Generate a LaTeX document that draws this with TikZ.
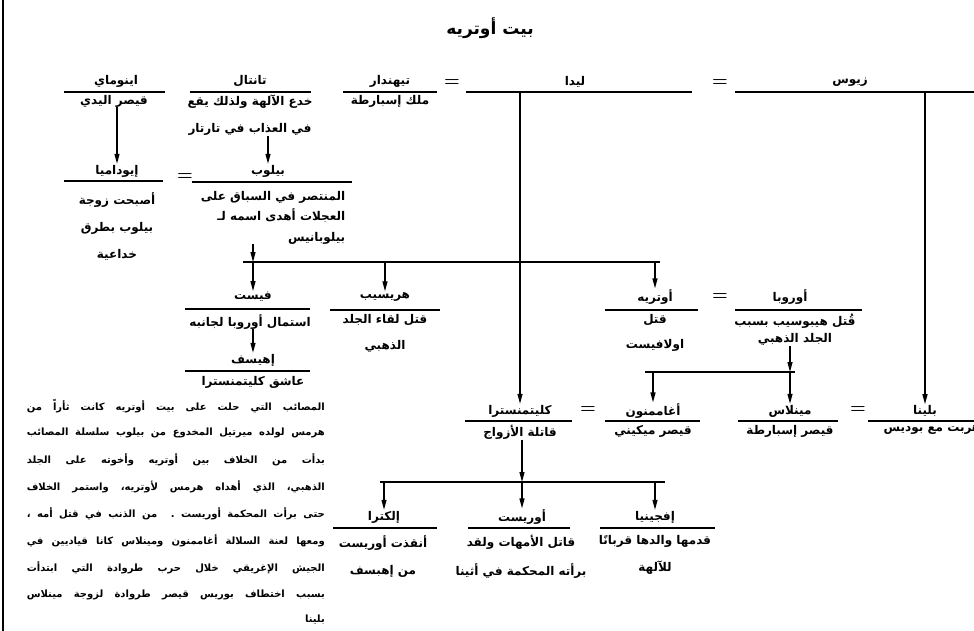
\documentclass[tikz,border=0pt]{standalone}
\usepackage{fontspec}
\newfontfamily\arabicfont[Script=Arabic]{DejaVu Sans}
\TeXXeTstate=1
\newcommand{\artxt}[1]{\beginR #1\endR}
\usetikzlibrary{arrows.meta}

\begin{document}
\begin{tikzpicture}[
x=1pt, y=-1pt,
    person/.style={font=\arabicfont\bfseries\fontsize{12}{14}\selectfont, inner sep=1pt},
    note/.style={font=\arabicfont\bfseries\fontsize{12}{14}\selectfont, inner sep=0pt, anchor=north, align=center},
    bar/.style={fill=black, inner sep=0pt, minimum height=1.1pt},
    eq/.style={font=\bfseries\fontsize{18}{18}\selectfont, inner sep=0pt},
    line/.style={draw, line width=1.3pt},
    arrow/.style={line, -{Triangle[length=10pt, width=5pt]}},
    para/.style={font=\arabicfont\bfseries\fontsize{10}{12}\selectfont, inner sep=0pt, anchor=east}
]
    \useasboundingbox (0,0) rectangle (974,631);
    \draw[line] (3,0) -- (3,631);

    % --- Title ---
    \node[font=\arabicfont\bfseries\fontsize{17}{20}\selectfont] (title) at (490,28) {\artxt{بيت أوتريه}};

    % --- Top row ---
    \node[person] (oeno) at (116,81) {\artxt{اينوماي}};
    \node[bar, minimum width=101pt] (oenoBar) at (114.5,92) {};
    \node[note] (oenoInfo) at (114,95) {\artxt{قيصر اليدي}};

    \node[person] (tant) at (250,81) {\artxt{تانتال}};
    \node[bar, minimum width=121pt] (tantBar) at (250.5,92) {};
    \node[note] (tantInfo) at (250,95) {\artxt{خدع الآلهة ولذلك يقع}\\[13pt]\artxt{في العذاب في تارتار}};

    \node[person] (tynd) at (390,81) {\artxt{تيهندار}};
    \node[bar, minimum width=94pt] (tyndBar) at (390,92) {};
    \node[note] (tyndInfo) at (390,95) {\artxt{ملك إسبارطة}};

    \node[eq] (eqA) at (452,83) {=};
    \node[person] (leda) at (575,82) {\artxt{ليدا}};
    \node[bar, minimum width=226pt] (ledaBar) at (579,92) {};

    \node[eq] (eqB) at (720,83) {=};
    \node[person] (zeus) at (850,82) {\artxt{زيوس}};
    \node[bar, minimum width=245pt] (zeusBar) at (857.5,92) {};

    % --- Pelops and his wife ---
    \node[person] (hippo) at (117,171) {\artxt{إيوداميا}};
    \node[bar, minimum width=99pt] (hippoBar) at (113.5,181) {};
    \node[note] (hippoInfo) at (117,192) {\artxt{أصبحت زوجة}\\[13pt]\artxt{بيلوب بطرق}\\[13pt]\artxt{خداعية}};

    \node[eq] (eqC) at (185,177) {=};
    \node[person] (pelops) at (268,171) {\artxt{بيلوب}};
    \node[bar, minimum width=160pt] (pelopsBar) at (272,182) {};
    \node[note, align=right] (pelopsInfo) at (273,191) {\artxt{المنتصر في السباق على}\\[4pt]\artxt{العجلات أهدى اسمه لـ}\\[7pt]\artxt{بيلوبانيس}};

    \draw[arrow] (oenoInfo.south -| hippo) -- (hippo.north);
    \draw[arrow] (tantInfo.south -| pelops) -- (pelops.north);

    % --- Children of Pelops ---
    \node[person] (thy) at (253,297) {\artxt{فيست}};
    \node[bar, minimum width=125pt] (thyBar) at (247.5,309) {};
    \node[note] (thyInfo) at (250,314) {\artxt{استمال أوروبا لجانبه}};

    \node[person] (chrys) at (385,297) {\artxt{هريسيب}};
    \node[bar, minimum width=110pt] (chrysBar) at (385,310) {};
    \node[note] (chrysInfo) at (385,314) {\artxt{قتل لقاء الجلد}\\[12pt]\artxt{الذهبي}};

    \node[person] (atr) at (655,297) {\artxt{أوتريه}};
    \node[bar, minimum width=93pt] (atrBar) at (651.5,310) {};
    \node[note] (atrInfo) at (655,314) {\artxt{قتل}\\[11pt]\artxt{اولافيست}};

    \node[eq] (eqD) at (720,297) {=};
    \node[person] (aero) at (790,297) {\artxt{أوروبا}};
    \node[bar, minimum width=127pt] (aeroBar) at (798.5,310) {};
    \node[note] (aeroInfo) at (795,314) {\artxt{قُتل هيبوسيب بسبب}\\[3pt]\artxt{الجلد الذهبي}};

    \coordinate (sibL) at (243,262);
    \coordinate (sibR) at (660,262);
    \draw[line] (sibL) -- (sibR);
    \draw[arrow] (pelopsInfo.south -| thy) -- (thy |- sibL);
    \draw[arrow] (thy |- sibL) -- (thy.north);
    \draw[arrow] (chrys |- sibL) -- (chrys.north);
    \draw[arrow] (atr |- sibL) -- (atr.north);

    % --- Aegisthus ---
    \node[person] (aeg) at (253,360) {\artxt{إهيسف}};
    \node[bar, minimum width=125pt] (aegBar) at (247.5,371) {};
    \node[note] (aegInfo) at (253,376) {\artxt{عاشق كليتمنسترا}};
    \draw[arrow] (thyInfo.south -| aeg) -- (aeg.north);

    % --- Fourth row ---
    \node[person] (clyt) at (520,411) {\artxt{كليتمنسترا}};
    \node[bar, minimum width=107pt] (clytBar) at (518.5,421) {};
    \node[note] (clytInfo) at (520,425) {\artxt{قاتلة الأزواج}};

    \node[eq] (eqE) at (588,410) {=};
    \node[person] (agam) at (653,411) {\artxt{أغاممنون}};
    \node[bar, minimum width=95pt] (agamBar) at (652.5,421) {};
    \node[note] (agamInfo) at (653,425) {\artxt{قيصر ميكيني}};

    \node[person] (men) at (790,411) {\artxt{مينلاس}};
    \node[bar, minimum width=100pt] (menBar) at (788,421) {};
    \node[note] (menInfo) at (790,425) {\artxt{قيصر إسبارطة}};

    \node[eq] (eqF) at (858,410) {=};
    \node[person] (helen) at (925,411) {\artxt{بلينا}};
    \node[bar, minimum width=122pt] (helenBar) at (929,421) {};
    \node[note] (helenInfo) at (932,425) {\artxt{هربت مع بوديس}};

    \draw[arrow] (ledaBar.south -| clyt) -- (clyt.north);
    \draw[arrow] (zeusBar.south -| helen) -- (helen.north);

    \coordinate (aeroL) at (645,372);
    \coordinate (aeroR) at (795,372);
    \draw[line] (aeroL) -- (aeroR);
    \draw[arrow] (aeroInfo.south -| men) -- (men |- aeroL);
    \draw[arrow] (agam |- aeroL) -- (agam.north);
    \draw[arrow] (men |- aeroL) -- (men.north);

    % --- Children of Agamemnon ---
    \node[person] (elec) at (384,517) {\artxt{إلكترا}};
    \node[bar, minimum width=104pt] (elecBar) at (385,528) {};
    \node[note] (elecInfo) at (383,535) {\artxt{أنقذت أوريست}\\[13pt]\artxt{من إهبسف}};

    \node[person] (ores) at (522,517) {\artxt{أوريست}};
    \node[bar, minimum width=102pt] (oresBar) at (519,528) {};
    \node[note] (oresInfo) at (521,535) {\artxt{قاتل الأمهات ولقد}\\[13pt]\artxt{برأته المحكمة في أثينا}};

    \node[person] (iphi) at (655,517) {\artxt{إفجينيا}};
    \node[bar, minimum width=115pt] (iphiBar) at (657.5,528) {};
    \node[note] (iphiInfo) at (655,535) {\artxt{قدمها والدها قربانًا}\\[13pt]\artxt{للآلهة}};

    \coordinate (kidL) at (380,482);
    \coordinate (kidR) at (665,482);
    \draw[line] (kidL) -- (kidR);
    \draw[arrow] (clytInfo.south -| ores) -- (ores |- kidL);
    \draw[arrow] (elec |- kidL) -- (elec.north);
    \draw[arrow] (ores |- kidL) -- (ores.north);
    \draw[arrow] (iphi |- kidL) -- (iphi.north);

    % --- Text block ---
    \foreach \txt [count=\i from 0] in {
        المصائب التي حلت على بيت أوتريه كانت ثأراً من,
        هرمس لولده ميرتيل المخدوع من بيلوب سلسلة المصائب,
        بدأت من الخلاف بين أوتريه وأخوته على الجلد,
        الذهبي، الذي أهداه هرمس لأوتريه، واستمر الخلاف,
        حتى برأت المحكمة أوريست . من الذنب في قتل أمه ،,
        ومعها لعنة السلالة أغاممنون ومينلاس كانا قياديين في,
        الجيش الإغريقي خلال حرب طروادة التي ابتدأت,
        بسبب اختطاف بوريس قيصر طروادة لزوجة مينلاس}
        \node[para] (line\i) at (325,{406+27*\i}) {\makebox[298pt][s]{\artxt{\txt}}};
    \node[para] (line8) at (325,620) {\artxt{بلينا}};

\end{tikzpicture}
\end{document}
